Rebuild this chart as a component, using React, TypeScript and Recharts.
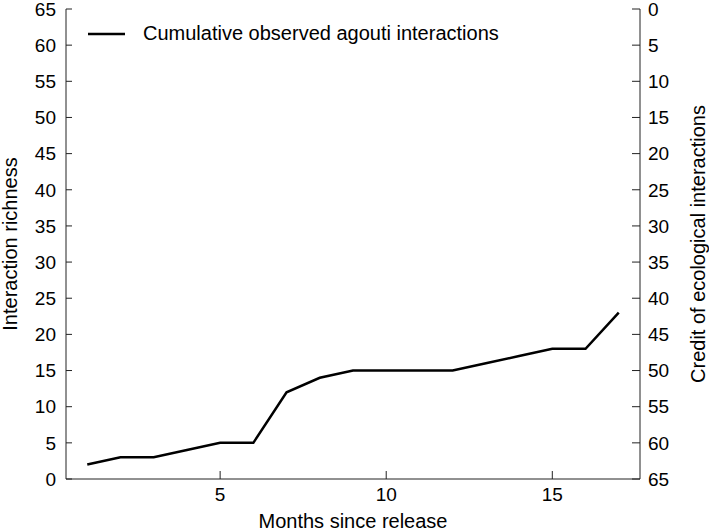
import { LineChart, Line, XAxis, YAxis } from 'recharts'

// months since release and cumulative interaction richness
const months = [1, 2, 3, 4, 5, 6, 7, 8, 9, 10, 11, 12, 13, 14, 15, 16, 17]
const richness = [2, 3, 3, 4, 5, 5, 12, 14, 15, 15, 15, 15, 16, 17, 18, 18, 23]

const xTicks = [5, 10, 15]
const yTicks = [0, 5, 10, 15, 20, 25, 30, 35, 40, 45, 50, 55, 60, 65]

const seriesName = 'Cumulative observed agouti interactions'

const data = months.map((m, i) => ({ month: m, richness: richness[i] }))

const family = '"Liberation Sans", Arial, sans-serif'
const tickFont = { fontFamily: family, fontSize: 19, fill: '#000' }
const titleFont = { fontFamily: family, fontSize: 20, fill: '#000' }
const axisColor = '#222'

function LegendBox() {
  return (
    <div
      style={{
        position: 'absolute',
        left: 88,
        top: 22,
        display: 'flex',
        alignItems: 'center',
        fontFamily: family,
        fontSize: 20,
        color: '#000',
        whiteSpace: 'nowrap',
      }}
    >
      <svg width={37} height={4} style={{ marginRight: 18 }}>
        <line x1={0} y1={2} x2={37} y2={2} stroke="#000" strokeWidth={2.5} />
      </svg>
      <span>{seriesName}</span>
    </div>
  )
}

export default function App() {
  return (
    <div style={{ position: 'absolute', left: 0, top: 0, width: 709, height: 531, background: '#fff' }}>
      <LineChart
        width={709}
        height={531}
        data={data}
        margin={{ top: 9, right: 0, bottom: 0, left: 0 }}
      >
        <XAxis
          dataKey="month"
          type="number"
          domain={[0.36, 17.64]}
          ticks={xTicks}
          interval={0}
          height={52}
          stroke={axisColor}
          tickSize={-8}
          tickMargin={17}
          tick={tickFont}
          label={{ value: 'Months since release', position: 'insideBottom', offset: 3, style: titleFont }}
        />
        <YAxis
          yAxisId="left"
          type="number"
          domain={[0, 65]}
          ticks={yTicks}
          interval={0}
          width={66}
          stroke={axisColor}
          tickSize={-6}
          tickMargin={16}
          tick={tickFont}
          label={{ value: 'Interaction richness', angle: -90, position: 'insideLeft', offset: 10, style: { ...titleFont, textAnchor: 'middle' } }}
        />
        <YAxis
          yAxisId="right"
          orientation="right"
          type="number"
          domain={[0, 65]}
          reversed
          ticks={yTicks}
          interval={0}
          width={69}
          stroke={axisColor}
          tickSize={-8}
          tickMargin={16}
          tick={tickFont}
          label={{ value: 'Credit of ecological interactions', angle: -90, position: 'insideRight', offset: 11, style: { ...titleFont, textAnchor: 'middle' } }}
        />
        {/* invisible copy bound to the right axis so it gets drawn */}
        <Line
          yAxisId="right"
          dataKey="richness"
          stroke="none"
          dot={false}
          activeDot={false}
          legendType="none"
          isAnimationActive={false}
        />
        <Line
          yAxisId="left"
          dataKey="richness"
          name={seriesName}
          stroke="#000"
          strokeWidth={2.5}
          dot={false}
          isAnimationActive={false}
        />
      </LineChart>
      <LegendBox />
    </div>
  )
}
